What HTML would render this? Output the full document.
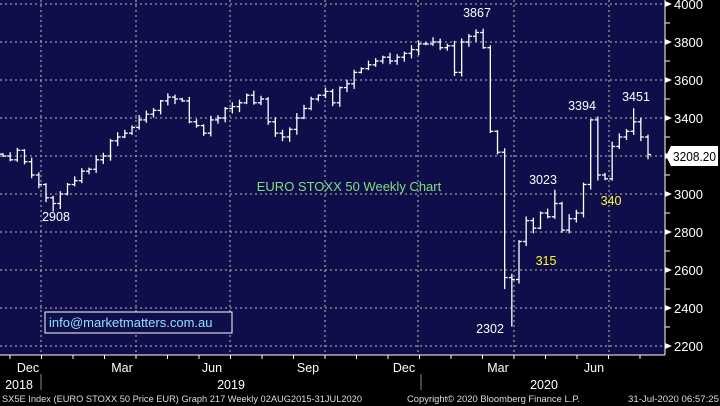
<!DOCTYPE html>
<html><head><meta charset="utf-8"><style>
body{margin:0;background:#000;width:720px;height:406px;overflow:hidden;font-family:"Liberation Sans",sans-serif}
svg{display:block}
</style></head><body>
<svg id="s" width="720" height="406" xmlns="http://www.w3.org/2000/svg" font-family="Liberation Sans, sans-serif">
<rect x="0" y="0" width="665" height="355" fill="#0f0e4a"/>
<g id="grid" stroke="#9a9a9a" stroke-width="1.3" stroke-dasharray="2,3"></g>
<g id="bars" stroke="#fff" stroke-width="1.3" fill="none"></g>
<line x1="665" y1="0" x2="665" y2="355" stroke="#fff"/>
<line x1="0" y1="355" x2="665" y2="355" stroke="#fff"/>
<g id="axis" fill="#fff" font-size="13"></g>
<g fill="#fff" font-size="12.5">
<text x="477" y="17" text-anchor="middle">3867</text>
<text x="56" y="221" text-anchor="middle">2908</text>
<text x="490" y="333" text-anchor="middle">2302</text>
<text x="543" y="184" text-anchor="middle">3023</text>
<text x="582" y="110" text-anchor="middle">3394</text>
<text x="636" y="101" text-anchor="middle">3451</text>
</g>
<g fill="#ffff33" font-size="12.5">
<text x="546" y="265" text-anchor="middle">315</text>
<text x="611" y="205" text-anchor="middle">340</text>
</g>
<text x="349" y="191" text-anchor="middle" fill="#7fe07f" font-size="13">EURO STOXX 50 Weekly Chart</text>
<rect x="45" y="312" width="187" height="21" fill="#0f0e4a" stroke="#fff" stroke-width="1"/>
<text x="49" y="327" fill="#8fe0ff" font-size="13">info@marketmatters.com.au</text>
<polygon points="666,156 671,146 718,146 718,166 671,166" fill="#fff"/>
<text x="673" y="161" fill="#000" font-size="13" textLength="43" lengthAdjust="spacingAndGlyphs">3208.20</text>
<g fill="#fff" font-size="12.5" text-anchor="middle">
<text x="28" y="372">Dec</text><text x="122" y="372">Mar</text><text x="212" y="372">Jun</text>
<text x="308" y="372">Sep</text><text x="404" y="372">Dec</text><text x="498" y="372">Mar</text><text x="594" y="372">Jun</text>
<text x="19" y="389">2018</text><text x="231" y="389">2019</text><text x="544" y="389">2020</text>
</g>
<line x1="41" y1="374" x2="41" y2="390" stroke="#888"/>
<line x1="421" y1="374" x2="421" y2="390" stroke="#888"/>
<g fill="#ddd" font-size="9.5">
<text x="2" y="402" textLength="360" lengthAdjust="spacingAndGlyphs">SX5E Index (EURO STOXX 50 Price EUR) Graph 217  Weekly 02AUG2015-31JUL2020</text>
<text x="407" y="402" textLength="173" lengthAdjust="spacingAndGlyphs">Copyright© 2020 Bloomberg Finance L.P.</text>
<text x="628" y="402" textLength="91" lengthAdjust="spacingAndGlyphs">31-Jul-2020 06:57:25</text>
</g>
</svg>
<script>
var NS="http://www.w3.org/2000/svg";
function el(p,t,a){var e=document.createElementNS(NS,t);for(var k in a)e.setAttribute(k,a[k]);p.appendChild(e);return e;}
function Y(v){return 4+(4000-v)*0.19;}
var g=document.getElementById('grid'),ax=document.getElementById('axis');
for(var v=2200;v<=4000;v+=200){el(g,'line',{x1:0,x2:665,y1:Y(v),y2:Y(v)});
 el(ax,'polygon',{points:"665,"+(Y(v)-3)+" 672,"+Y(v)+" 665,"+(Y(v)+3)});
 var t=el(ax,'text',{x:674,y:Y(v)+5});t.textContent=v;}
for(var v=2300;v<4000;v+=200)el(ax,'line',{x1:665,x2:670,y1:Y(v),y2:Y(v),stroke:'#fff'});
[41,136,230,325,418,514,609].forEach(function(x){el(g,'line',{x1:x,x2:x,y1:0,y2:355});});
for(var x=10;x<665;x+=31.5)el(ax,'line',{x1:x,x2:x,y1:355,y2:359,stroke:'#fff'});
var c=[3200,3180,3230,3170,3100,3050,2980,2950,3000,3050,3070,3120,3130,3180,3200,3280,3300,3320,3350,3390,3420,3440,3490,3510,3500,3490,3380,3360,3320,3390,3400,3450,3460,3480,3520,3480,3500,3380,3320,3300,3340,3400,3450,3500,3520,3540,3480,3560,3580,3640,3660,3680,3700,3720,3700,3720,3740,3760,3790,3790,3800,3770,3780,3640,3800,3830,3850,
3770,3330,3220,2560,2550,
2750,2860,2820,2900,2880,2950,2810,2870,2900,3050,3390,
3100,3080,3250,3300,3330,3380,3300,3208];
var n=c.length,dx=645/(n-1),b=document.getElementById('bars');
var hi={66:3867,71:2580,82:3394,88:3451,7:2990,77:3023},lo={7:2908,71:2302,70:2500};
for(var i=0;i<n;i++){var o=i?c[i-1]:3210,cl=c[i];
 var h=Math.max(o,cl)+5+((i*37)%22),l=Math.min(o,cl)-5-((i*53)%25);
 if(hi[i])h=Math.max(hi[i],Math.max(o,cl));if(lo[i])l=lo[i];
 var x=3+i*dx;
 el(b,'line',{x1:x,x2:x,y1:Y(h),y2:Y(l)});
 el(b,'line',{x1:x-3,x2:x,y1:Y(o),y2:Y(o)});
 el(b,'line',{x1:x,x2:x+3,y1:Y(cl),y2:Y(cl)});}
</script>
</body></html>
